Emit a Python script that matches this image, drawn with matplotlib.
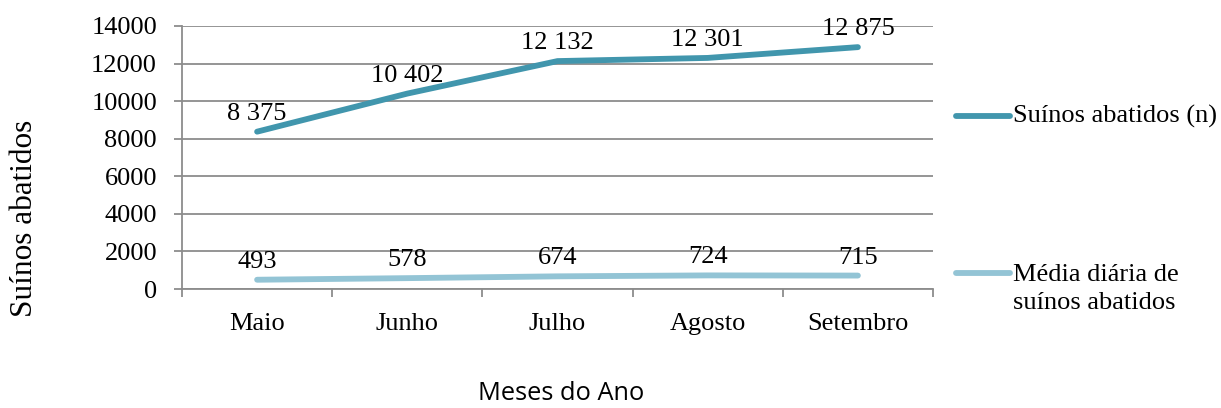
import matplotlib.pyplot as plt
from matplotlib.lines import Line2D

meses = ['Maio', 'Junho', 'Julho', 'Agosto', 'Setembro']
suinos_abatidos = [8375, 10402, 12132, 12301, 12875]
media_diaria = [493, 578, 674, 724, 715]
yticks = [0, 2000, 4000, 6000, 8000, 10000, 12000, 14000]

COR_ESCURA = '#4196ad'
COR_CLARA = '#93c4d5'
GRID = '#8c8c8c'
SERIF = 'Liberation Serif'
FS = 19


def fmt(v):
    return f'{v:,}'.replace(',', ' ')


def get_fig():
    fig = plt.figure(figsize=(12.21, 4.08), dpi=100)
    ax = fig.add_axes([182 / 1221, 1 - 289 / 408, (933 - 182) / 1221, (289 - 26) / 408])

    x = list(range(len(meses)))
    ax.plot(x, suinos_abatidos, color=COR_ESCURA, lw=4.2, solid_capstyle='round', zorder=3)
    ax.plot(x, media_diaria, color=COR_CLARA, lw=4.2, solid_capstyle='round', zorder=3)

    for xi, v in zip(x, suinos_abatidos):
        ax.annotate(fmt(v), xy=(xi, v), xytext=(0, 5), textcoords='offset points',
                    ha='center', va='bottom', fontsize=FS, family=SERIF)
    for xi, v in zip(x, media_diaria):
        ax.annotate(fmt(v), xy=(xi, v), xytext=(0, 5), textcoords='offset points',
                    ha='center', va='bottom', fontsize=FS, family=SERIF)

    ax.set_xlim(-0.5, len(meses) - 0.5)
    ax.set_ylim(0, 14000)
    ax.set_yticks(yticks)
    ax.set_yticklabels([str(t) for t in yticks], family=SERIF, fontsize=FS)
    ax.set_xticks(x)
    ax.set_xticklabels(meses, family=SERIF, fontsize=FS)
    ax.set_xticks([i - 0.5 for i in range(len(meses) + 1)], minor=True)
    ax.tick_params(axis='x', which='major', length=0, pad=17)
    ax.tick_params(axis='x', which='minor', length=6, width=1.3, color=GRID)
    ax.tick_params(axis='y', length=6, width=1.3, color=GRID, pad=12)

    ax.grid(axis='y', color=GRID, lw=1.3)
    ax.set_axisbelow(True)
    for s in ['top', 'right']:
        ax.spines[s].set_visible(False)
    for s in ['left', 'bottom']:
        ax.spines[s].set_color(GRID)
        ax.spines[s].set_linewidth(1.3)

    fig.text(25 / 1221, 1 - 218 / 408, 'Suínos abatidos', rotation=90, ha='center', va='center',
             family=SERIF, fontsize=22.5)
    fig.text(561 / 1221, 1 - 394 / 408, 'Meses do Ano', ha='center', va='center',
             family='Open Sans', fontsize=18.3)

    # legenda no estilo do Excel
    for y, cor in [(116, COR_ESCURA), (273, COR_CLARA)]:
        fig.add_artist(Line2D([956 / 1221, 1010 / 1221], [1 - y / 408] * 2, color=cor, lw=4.2,
                              solid_capstyle='round', transform=fig.transFigure))
    fig.text(1013 / 1221, 1 - 116 / 408, 'Suínos abatidos (n)', va='center', family=SERIF, fontsize=FS)
    fig.text(1013 / 1221, 1 - 289 / 408, 'Média diária de\nsuínos abatidos', va='center',
             family=SERIF, fontsize=FS, linespacing=1.35)
    return fig


fig = get_fig()
fig.savefig('out.png', dpi=100)
